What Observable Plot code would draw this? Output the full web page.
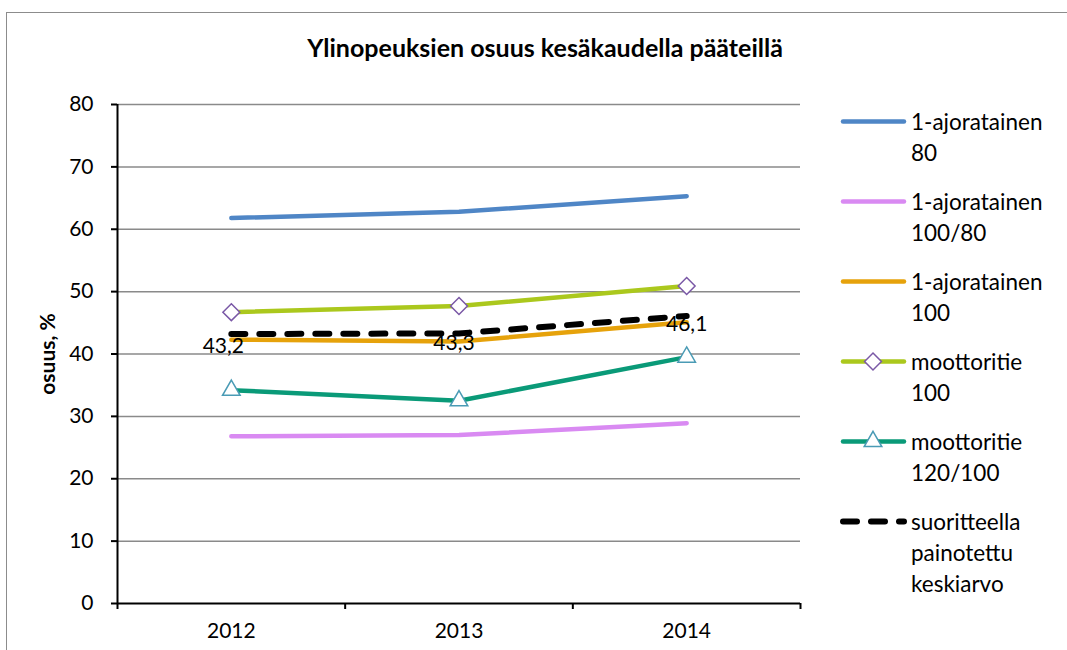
<!DOCTYPE html>
<html><head><meta charset="utf-8">
<script src="https://cdn.jsdelivr.net/npm/d3@7"></script>
<script src="https://cdn.jsdelivr.net/npm/@observablehq/plot@0.6"></script>
<style>
body{margin:0;background:#fff;font-family:Lato,sans-serif;}
#wrap{position:relative;width:1067px;height:650px;overflow:hidden;background:#fff;}
#frame{position:absolute;left:6px;top:12px;width:1100px;height:700px;border:1.5px solid #8c8c8c;box-sizing:border-box;}
#chart{position:absolute;left:0;top:0;}
#title{position:absolute;left:195px;width:700px;top:32px;text-align:center;font-weight:bold;font-size:25px;color:#000;line-height:30px;}
#legend{position:absolute;left:840px;top:106px;display:flex;flex-direction:column;gap:18px;}
.item{display:flex;align-items:flex-start;font-size:22.5px;line-height:31px;color:#000;}
.item svg{flex:none;margin-right:3px;}
</style></head><body>
<div id="wrap">
<div id="frame"></div>
<div id="chart"></div>
<div id="title">Ylinopeuksien osuus kesäkaudella pääteillä</div>
<div id="legend"></div>
</div>
<script>
const years = [2012, 2013, 2014];
const yTicks = [0, 10, 20, 30, 40, 50, 60, 70, 80];
const seriesNames = ["1-ajoratainen 80", "1-ajoratainen 100/80", "1-ajoratainen 100", "moottoritie 100", "moottoritie 120/100", "suoritteella painotettu keskiarvo"];
const legendLines = [["1-ajoratainen", "80"], ["1-ajoratainen", "100/80"], ["1-ajoratainen", "100"], ["moottoritie", "100"], ["moottoritie", "120/100"], ["suoritteella", "painotettu", "keskiarvo"]];
const ajo80 = [61.8, 62.8, 65.3];
const ajo100_80 = [26.8, 27.0, 28.9];
const ajo100 = [42.3, 42.0, 45.1];
const moot100 = [46.7, 47.7, 50.9];
const moot120_100 = [34.2, 32.5, 39.5];
const keskiarvo = [43.2, 43.3, 46.1];
const colors = ["#4f86c6", "#d98af2", "#e6a20b", "#abc81d", "#0a9a78", "#000000"];

const allValues = [ajo80, ajo100_80, ajo100, moot100, moot120_100, keskiarvo];
const rows = [];
allValues.forEach((vals, s) => vals.forEach((v, i) => rows.push({series: seriesNames[s], year: years[i], value: v, idx: i})));
const xDomain = [years[0] - 0.5, years[years.length - 1] + 0.5];
const xEdges = d3.range(years.length + 1).map(i => xDomain[0] + i);
const fmt = v => v.toFixed(1).replace(".", ",");

const lineMarks = seriesNames.map((name, s) => Plot.line(rows.filter(r => r.series === name), {
  x: "year", y: "value", stroke: colors[s],
  strokeWidth: s === 5 ? 6 : 4.5,
  strokeDasharray: s === 5 ? "14,14" : null,
  strokeLinecap: "round", strokeLinejoin: "round"
}));

const avgRows = rows.filter(r => r.series === seriesNames[5]);
const labelOffsets = [[-8, 12], [-5, 10], [0, 8]];

const chart = Plot.plot({
  width: 1067, height: 650,
  marginLeft: 117, marginRight: 267, marginTop: 104, marginBottom: 47,
  style: {fontFamily: "Lato, sans-serif", fontSize: "21px", background: "transparent", color: "#000"},
  x: {type: "linear", domain: xDomain, axis: null},
  y: {domain: [0, 80], axis: null},
  marks: [
    Plot.ruleY(yTicks.slice(1), {stroke: "#8a8a8a", strokeWidth: 1.5}),
    Plot.ruleX([xDomain[0]], {stroke: "#000", strokeWidth: 2}),
    Plot.axisY({ticks: yTicks, tickSize: 6, tickPadding: 18, label: null, fontSize: 21, stroke: "#000", strokeWidth: 2, fill: "#000"}),
    Plot.axisX({ticks: xEdges, tickSize: 6, tickFormat: () => "", label: null, stroke: "#000", strokeWidth: 2}),
    Plot.axisX({ticks: years, tickSize: 0, tickPadding: 20, tickFormat: d => String(d), label: null, fontSize: 21, fill: "#000"}),
    Plot.ruleY([0], {stroke: "#000", strokeWidth: 2}),
    Plot.text(["osuus, %"], {frameAnchor: "left", textAnchor: "middle", rotate: -90, dx: -69, fontWeight: "bold", fontSize: 21, fill: "#000"}),
    ...lineMarks.slice(0, 4),
    Plot.dot(rows.filter(r => r.series === seriesNames[3]), {x: "year", y: "value", symbol: "diamond2", r: 7.6, fill: "#fff", stroke: "#7a58a6", strokeWidth: 1.5}),
    lineMarks[4],
    Plot.dot(rows.filter(r => r.series === seriesNames[4]), {x: "year", y: "value", symbol: "triangle2", r: 8.4, fill: "#fff", stroke: "#4a9bb5", strokeWidth: 1.5}),
    lineMarks[5],
    ...avgRows.map((r, i) => Plot.text([r], {x: "year", y: "value", text: d => fmt(d.value), dx: labelOffsets[i][0], dy: labelOffsets[i][1], fontSize: 21, fill: "#000"}))
  ]
});
document.getElementById("chart").append(chart);

// legend
const legend = document.getElementById("legend");
seriesNames.forEach((name, s) => {
  const item = document.createElement("div");
  item.className = "item";
  let sym = "";
  if (s === 3) sym = `<path d="${d3.symbol(d3.symbolDiamond2, Math.PI * 7.6 * 7.6)()}" transform="translate(33,15.5)" fill="#fff" stroke="#7a58a6" stroke-width="1.5"/>`;
  if (s === 4) sym = `<path d="${d3.symbol(d3.symbolTriangle2, Math.PI * 8.4 * 8.4)()}" transform="translate(33,15.5)" fill="#fff" stroke="#4a9bb5" stroke-width="1.5"/>`;
  const dash = s === 5 ? 'stroke-dasharray="14,14"' : "";
  const sw = s === 5 ? 6 : 4.5;
  item.innerHTML = `<svg width="68" height="31"><line x1="3" x2="64" y1="15.5" y2="15.5" stroke="${colors[s]}" stroke-width="${sw}" stroke-linecap="round" ${dash}/>${sym}</svg><div>${legendLines[s].join("<br>")}</div>`;
  legend.append(item);
});
</script>
</body></html>
